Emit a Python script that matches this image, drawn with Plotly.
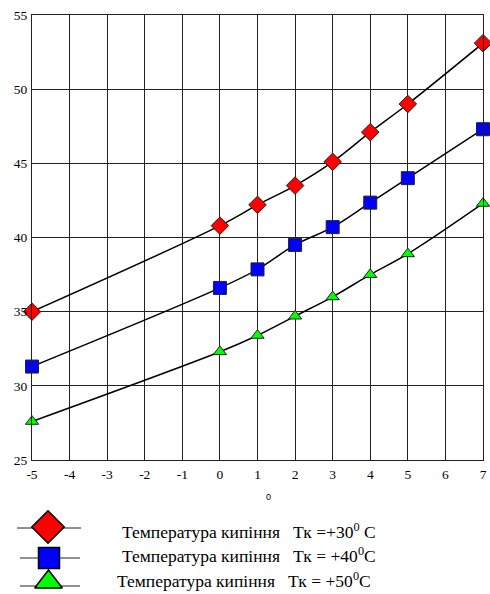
import plotly.graph_objects as go

# ---- data ----
x_vals = [-5, 0, 1, 2, 3, 4, 5, 7]
t30 = [35.0, 40.8, 42.2, 43.5, 45.1, 47.1, 49.0, 53.1]
t40 = [31.3, 36.6, 37.85, 39.5, 40.7, 42.35, 44.0, 47.3]
t50 = [27.6, 32.3, 33.4, 34.7, 36.0, 37.5, 38.9, 42.3]
x_ticks = [-5, -4, -3, -2, -1, 0, 1, 2, 3, 4, 5, 6, 7]
x_tick_text = ["-5", "-4", "-3", "-2", "-1", "0", "1", "2", "3", "4", "5", "6", "7"]
y_ticks = [25, 30, 35, 40, 45, 50, 55]
labels = ["Температура кипіння\u00a0\u00a0\u00a0Тк =+30<sup>0</sup>\u00a0C",
          "Температура кипіння\u00a0\u00a0\u00a0Тк = +40<sup>0</sup>C",
          "Температура кипіння\u00a0\u00a0\u00a0Тк = +50<sup>0</sup>C"]
x_title = "0"

W, H = 490, 594
ML, MR, MT, MB = 10, 7, 15, 0
PW = W - ML - MR
PH = H - MT - MB
main_left_px, main_bottom_px = 32, 460
SERIF = "Liberation Serif, Times New Roman, serif"

series = [
    (t30, "diamond", "#ff0000", 13.5),
    (t40, "square", "#0000ff", 13),
    (t50, "triangle-up", "#00ff00", 11.5),
]

fig = go.Figure()
for ys, sym, col, sz in series:
    fig.add_trace(go.Scatter(
        x=x_vals, y=ys, mode="lines+markers",
        line=dict(color="black", width=1.5, shape="spline", smoothing=1),
        marker=dict(symbol=sym, size=sz, color=col, line=dict(color="#222", width=1)),
        cliponaxis=False, showlegend=False,
        xaxis="x", yaxis="y"))

# ---- custom legend drawn on a helper axis measured in pixels ----
leg = [
    (dict(x0=17, x1=81, y=528, mx=48, my=527), "diamond", "#ff0000", 25, 120, 531),
    (dict(x0=20, x1=80, y=558, mx=49, my=558), "square", "#0000ff", 21, 120, 555),
    (dict(x0=20, x1=80, y=586, mx=48.5, my=582), "triangle-up", "#00ff00", 24, 115, 580),
]
for (g, sym, col, sz, tx, ty), lab in zip(leg, labels):
    fig.add_trace(go.Scatter(x=[g["x0"], g["x1"]], y=[g["y"], g["y"]], mode="lines",
                             line=dict(color="#222", width=1), showlegend=False,
                             xaxis="x2", yaxis="y2", cliponaxis=False, hoverinfo="skip"))
    fig.add_trace(go.Scatter(x=[g["mx"]], y=[g["my"]], mode="markers",
                             marker=dict(symbol=sym, size=sz, color=col,
                                         line=dict(color="black", width=1.5)),
                             showlegend=False, xaxis="x2", yaxis="y2", cliponaxis=False,
                             hoverinfo="skip"))
    fig.add_annotation(x=tx, y=ty, xref="x2", yref="y2", text=lab, showarrow=False,
                       xanchor="left", yanchor="middle",
                       font=dict(family=SERIF, size=17.5, color="black"))

fig.add_annotation(x=268, y=497, xref="x2", yref="y2", text=x_title, showarrow=False,
                   xanchor="center", yanchor="middle",
                   font=dict(family="Liberation Sans", size=9, color="black"))

dom_x0 = (main_left_px - ML) / PW
dom_y0 = (H - MB - main_bottom_px) / PH

fig.update_layout(
    width=W, height=H,
    margin=dict(l=ML, r=MR, t=MT, b=MB, autoexpand=False),
    paper_bgcolor="white", plot_bgcolor="white",
    font=dict(family=SERIF, size=13, color="black"),
    xaxis=dict(domain=[dom_x0, 1], range=[-5, 7], tickvals=x_ticks, ticktext=x_tick_text,
               showgrid=True, gridcolor="#222", gridwidth=1, zeroline=False,
               showline=True, linecolor="#222", linewidth=1, mirror=True, automargin=False,
               ticks="outside", ticklen=2, tickcolor="rgba(0,0,0,0)",
               tickfont=dict(family=SERIF, size=13.5), anchor="y"),
    yaxis=dict(domain=[dom_y0, 1], range=[25, 55], tickvals=y_ticks,
               showgrid=True, gridcolor="#222", gridwidth=1, zeroline=False,
               showline=True, linecolor="#222", linewidth=1, mirror=True, automargin=False,
               ticks="outside", ticklen=1, tickcolor="rgba(0,0,0,0)",
               tickfont=dict(family=SERIF, size=13.5), anchor="x"),
    xaxis2=dict(domain=[0, 1], range=[ML, W - MR], visible=False, anchor="y2"),
    yaxis2=dict(domain=[0, (H - MB - 460) / PH], range=[H - MB, 460], visible=False, anchor="x2"),
)

fig.write_html("out.html", config={"displayModeBar": False},
               post_script="document.body.style.margin='0';document.body.style.overflow='hidden';")
